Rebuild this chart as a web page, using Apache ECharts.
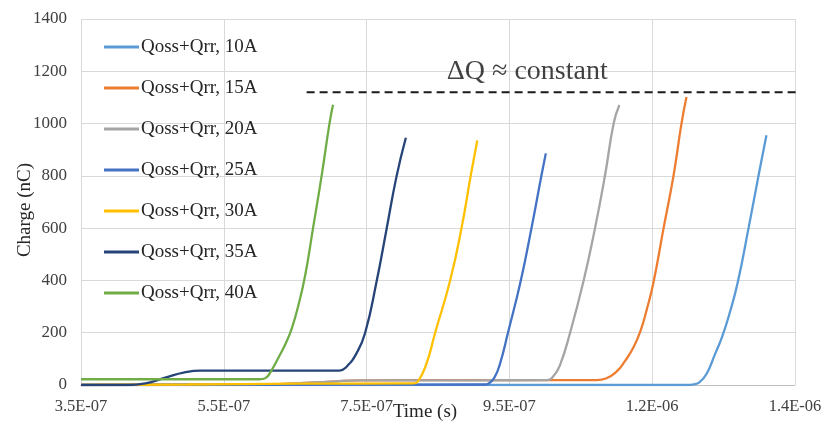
<!DOCTYPE html>
<html>
<head>
<meta charset="utf-8">
<script src="https://cdn.jsdelivr.net/npm/echarts@6/dist/echarts.min.js"></script>
<style>
  html, body { margin: 0; padding: 0; background: #fff; }
  #chart { width: 821px; height: 423px; }
</style>
</head>
<body>
<div id="chart"></div>
<script>
// Time in ns, charge in nC
const seriesNames = ['Qoss+Qrr, 10A', 'Qoss+Qrr, 15A', 'Qoss+Qrr, 20A', 'Qoss+Qrr, 25A',
                     'Qoss+Qrr, 30A', 'Qoss+Qrr, 35A', 'Qoss+Qrr, 40A'];
const seriesColors = ['#5B9BD5', '#ED7D31', '#A5A5A5', '#4472C4', '#FFC000', '#264478', '#70AD47'];

const q10A = [[350,0],[800,0],[1200,0],[1208,2],[1216,10],[1226,42],[1238,118],[1248,185],[1259,280],[1270,395],[1285,601],[1299,802],[1310,955]];
const q15A = [[350,0],[600,2],[650,6],[700,13],[740,18],[900,19],[1072,19],[1086,26],[1100,51],[1112,92],[1124,145],[1134,210],[1143,295],[1152,395],[1166,601],[1180,803],[1191,1000],[1198,1102]];
const q20A = [[350,0],[600,2],[650,6],[700,13],[740,18],[900,18],[1002,19],[1012,35],[1021,77],[1035,200],[1054,400],[1070,601],[1084,803],[1096,1000],[1104,1071]];
const q25A = [[350,0],[600,1],[915,2],[921,6],[929,28],[937,83],[948,200],[966,400],[981,601],[995,803],[1001,886]];
const q30A = [[350,0],[500,2],[650,5],[815,6],[822,14],[834,83],[846,200],[867,400],[883,601],[896,803],[905,935]];
const q35A = [[350,0],[415,0],[440,6],[468,28],[495,48],[517,55],[600,55],[712,55],[722,70],[736,122],[748,200],[764,396],[778,597],[792,799],[805,946]];
const q40A = [[350,22],[500,22],[600,22],[608,26],[617,57],[627,107],[637,161],[645,215],[654,300],[664,420],[675,600],[687,800],[698,1000],[703,1072]];
const seriesData = [q10A, q15A, q20A, q25A, q30A, q35A, q40A];

// Axis ranges and tick labels
const xMin = 350, xMax = 1350, xStep = 200;
const xTickLabels = ['3.5E-07', '5.5E-07', '7.5E-07', '9.5E-07', '1.2E-06', '1.4E-06'];
const yMin = 0, yMax = 1400, yStep = 200;

// Reference level for the peak charge and its note
const deltaQLine = [[666, 1120], [1352, 1120]];
const deltaQNote = [[975, 1200]];
const deltaQText = 'ΔQ ≈ constant';

const serif = '"Liberation Serif", "Times New Roman", serif';

const chart = echarts.init(document.getElementById('chart'), null, { renderer: 'canvas' });

const curves = seriesNames.map((name, i) => ({
  name: name,
  type: 'line',
  data: seriesData[i],
  smooth: 0.5,
  showSymbol: false,
  symbol: 'none',
  silent: true,
  lineStyle: { color: seriesColors[i], width: 2.3 },
  itemStyle: { color: seriesColors[i] },
  z: 3 + i
}));

chart.setOption({
  animation: false,
  backgroundColor: '#ffffff',
  grid: { left: 81, right: 26, top: 19, bottom: 38, containLabel: false, outerBoundsMode: 'none' },
  legend: {
    data: seriesNames,
    orient: 'vertical',
    left: 99,
    top: 31,
    itemWidth: 35,
    itemHeight: 3,
    itemGap: 19,
    icon: 'rect',
    textStyle: { fontFamily: serif, fontSize: 19, color: '#262626', lineHeight: 22, padding: [0, 0, 0, -3] }
  },
  xAxis: {
    type: 'value',
    min: xMin,
    max: xMax,
    interval: xStep,
    name: 'Time (s)',
    nameLocation: 'middle',
    nameGap: 18,
    nameMoveOverlap: false,
    nameTextStyle: { fontFamily: serif, fontSize: 19, color: '#262626', padding: [0, 26, 0, 0] },
    axisLine: { show: true, lineStyle: { color: '#bfbfbf', width: 1 } },
    axisTick: { show: false },
    axisLabel: {
      fontFamily: serif, fontSize: 16.5, color: '#404040', margin: 13,
      formatter: v => xTickLabels[Math.round((v - xMin) / xStep)] || ''
    },
    splitLine: { show: true, lineStyle: { color: '#d9d9d9', width: 1 } }
  },
  yAxis: {
    type: 'value',
    min: yMin,
    max: yMax,
    interval: yStep,
    name: 'Charge (nC)',
    nameLocation: 'middle',
    nameGap: 46,
    nameMoveOverlap: false,
    nameTextStyle: { fontFamily: serif, fontSize: 19, color: '#262626', padding: [0, 16, 0, 0] },
    axisLine: { show: false },
    axisTick: { show: false },
    axisLabel: { fontFamily: serif, fontSize: 17, color: '#404040', margin: 14, formatter: v => String(v) },
    splitLine: { show: true, lineStyle: { color: '#d9d9d9', width: 1 } }
  },
  series: curves.concat([
    {
      name: 'deltaQ',
      type: 'line',
      data: deltaQLine,
      showSymbol: false,
      symbol: 'none',
      silent: true,
      lineStyle: { color: '#1a1a1a', width: 2, type: [8, 5] },
      z: 2
    },
    {
      name: 'note',
      type: 'scatter',
      data: deltaQNote,
      symbolSize: 0,
      silent: true,
      label: {
        show: true,
        position: 'inside',
        formatter: deltaQText,
        fontFamily: serif,
        fontSize: 28,
        color: '#111'
      }
    }
  ])
});
</script>
</body>
</html>
